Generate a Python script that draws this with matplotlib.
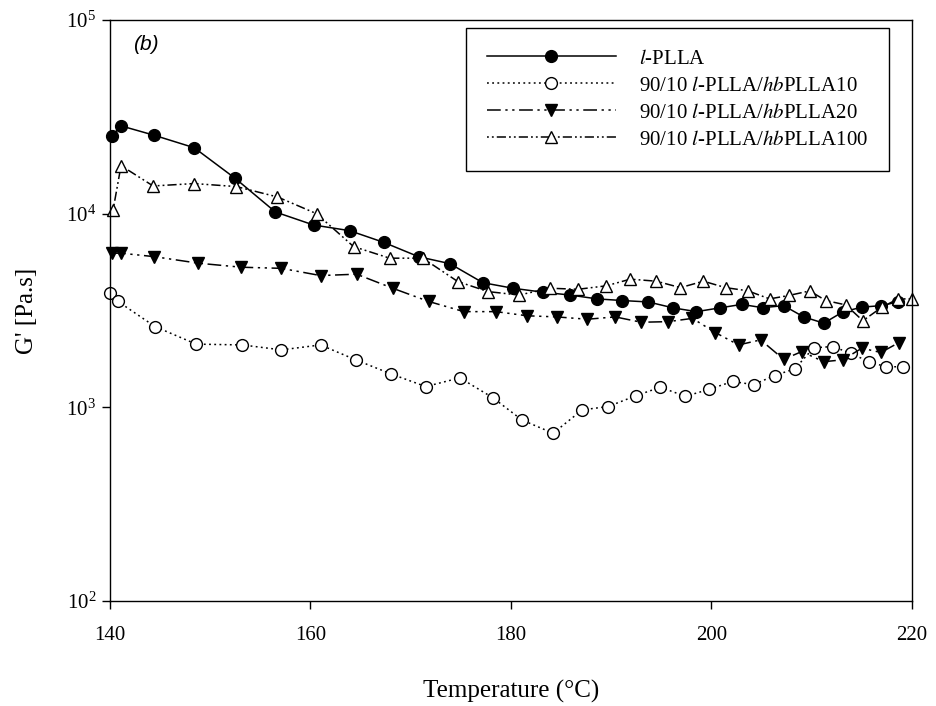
import matplotlib
matplotlib.use("Agg")
import matplotlib.pyplot as plt

plt.rcParams['font.family'] = ['Liberation Serif', 'DejaVu Serif']
plt.rcParams['mathtext.fontset'] = 'stix'

# l-PLLA
t_pure = [140.2, 141.1, 144.4, 148.4, 152.5, 156.5, 160.3, 163.9, 167.3, 170.8, 173.9,
          177.2, 180.2, 183.2, 185.9, 188.6, 191.1, 193.7, 196.2, 198.5, 200.8, 203.0,
          205.1, 207.2, 209.2, 211.2, 213.1, 215.0, 216.9, 218.6]
g_pure = [25200, 28400, 25400, 21900, 15200, 10200, 8740, 8170, 7110, 5990, 5520,
          4400, 4120, 3930, 3800, 3630, 3560, 3500, 3260, 3120, 3260, 3400,
          3270, 3350, 2930, 2720, 3110, 3290, 3350, 3500]

# 90/10 l-PLLA/hbPLLA10
t_10 = [140.0, 140.8, 144.5, 148.6, 153.2, 157.1, 161.0, 164.5, 168.0, 171.5, 174.9,
        178.2, 181.1, 184.2, 187.1, 189.7, 192.5, 194.9, 197.4, 199.8, 202.1, 204.2,
        206.3, 208.3, 210.2, 212.1, 213.9, 215.7, 217.4, 219.1]
g_10 = [3910, 3520, 2610, 2120, 2100, 1980, 2100, 1760, 1490, 1280, 1420,
        1120, 860, 735, 970, 1010, 1150, 1270, 1140, 1240, 1360, 1310,
        1460, 1580, 2030, 2060, 1900, 1720, 1620, 1620]

# 90/10 l-PLLA/hbPLLA20
t_20 = [140.2, 141.1, 144.4, 148.8, 153.1, 157.1, 161.0, 164.6, 168.2, 171.8, 175.3,
        178.5, 181.6, 184.6, 187.6, 190.4, 193.0, 195.7, 198.1, 200.4, 202.7, 204.9,
        207.2, 209.0, 211.2, 213.1, 215.0, 216.9, 218.7]
g_20 = [6250, 6250, 6000, 5550, 5290, 5220, 4790, 4870, 4120, 3520, 3120,
        3120, 2970, 2930, 2850, 2930, 2750, 2770, 2880, 2430, 2100, 2230,
        1770, 1940, 1720, 1760, 2020, 1920, 2160]

# 90/10 l-PLLA/hbPLLA100
t_100 = [140.3, 141.1, 144.3, 148.4, 152.6, 156.7, 160.6, 164.3, 167.9, 171.2, 174.7,
         177.7, 180.8, 183.9, 186.7, 189.5, 191.9, 194.5, 196.9, 199.2, 201.4, 203.6,
         205.8, 207.7, 209.8, 211.4, 213.4, 215.1, 217.0, 218.6, 220.0]
g_100 = [10400, 17700, 13900, 14300, 13800, 12200, 10000, 6760, 5890, 5890, 4460,
         3960, 3800, 4120, 4070, 4240, 4590, 4480, 4150, 4480, 4150, 4000,
         3630, 3780, 3990, 3560, 3380, 2800, 3290, 3630, 3630]

fig = plt.figure(figsize=(9.37, 7.06), dpi=100)
ax = fig.add_axes([0.1174, 0.1487, 0.8559, 0.823])

ms = 8.5
ax.plot(t_pure, g_pure, color='black', linestyle='-', linewidth=1.1,
        marker='o', markersize=ms, markerfacecolor='black', markeredgecolor='black',
        label=r'$\mathit{l}$-PLLA', clip_on=False)
ax.plot(t_10, g_10, color='black', linestyle=(0, (1.2, 2.2)), linewidth=1.1,
        marker='o', markersize=ms, markerfacecolor='white', markeredgecolor='black',
        label=r'90/10 $\mathit{l}$-PLLA/$\mathit{hb}$PLLA10', clip_on=False)
ax.plot(t_20, g_20, color='black', linestyle=(0, (9, 3, 1.5, 3, 1.5, 3)), linewidth=1.1,
        marker='v', markersize=ms + 0.5, markerfacecolor='black', markeredgecolor='black',
        label=r'90/10 $\mathit{l}$-PLLA/$\mathit{hb}$PLLA20', clip_on=False)
ax.plot(t_100, g_100, color='black', linestyle=(0, (1.2, 2, 1.2, 2, 6, 2)), linewidth=1.1,
        marker='^', markersize=ms + 0.5, markerfacecolor='white', markeredgecolor='black',
        label=r'90/10 $\mathit{l}$-PLLA/$\mathit{hb}$PLLA100', clip_on=False)

ax.set_yscale('log')
ax.set_xlim(140, 220)
ax.set_ylim(1e2, 1e5)
ax.set_xticks([140, 160, 180, 200, 220])
ax.minorticks_off()
ax.tick_params(direction='out', length=6, width=1, labelsize=15)
ax.tick_params(axis='x', pad=12)
ax.tick_params(axis='y', pad=4)
for s in ax.spines.values():
    s.set_linewidth(1)

ax.set_xlabel('Temperature (°C)', fontsize=18, labelpad=25)
ax.set_ylabel("G' [Pa.s]", fontsize=18, labelpad=20)

ax.text(0.029, 0.957, '(b)', transform=ax.transAxes, fontsize=15,
        family='Liberation Sans', style='italic', va='center', ha='left')

leg = ax.legend(loc='upper right', bbox_to_anchor=(0.971, 0.986), borderaxespad=0,
                fontsize=15, handlelength=6.2, numpoints=1, fancybox=False, framealpha=1,
                edgecolor='black', borderpad=1.0, labelspacing=0.36, handletextpad=1.1)
leg.get_frame().set_linewidth(1)

fig.savefig('out.png', dpi=100)
